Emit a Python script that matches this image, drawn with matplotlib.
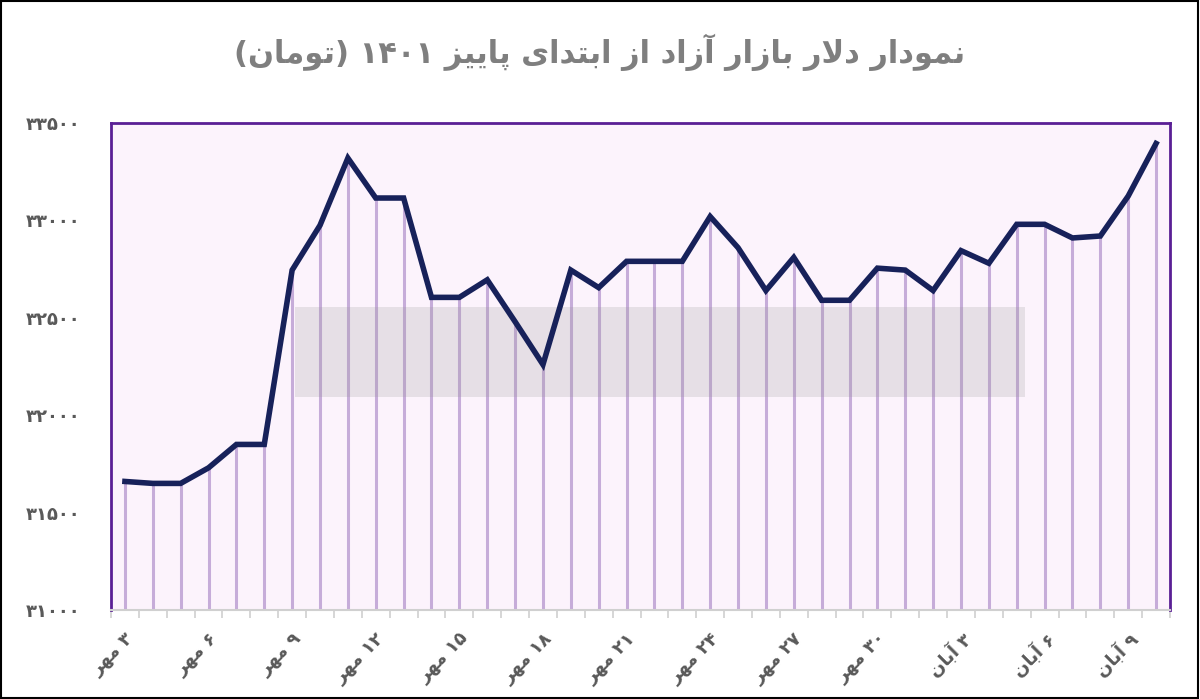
import matplotlib
matplotlib.use("Agg")
import matplotlib.pyplot as plt
from matplotlib.patches import Rectangle

# ---- minimal Arabic/Persian shaping ----
DUAL = {'ب': 'ﺏﺐﺑﺒ', 'پ': 'ﭖﭗﭘﭙ', 'ت': 'ﺕﺖﺗﺘ', 'ل': 'ﻝﻞﻟﻠ', 'م': 'ﻡﻢﻣﻤ',
        'ن': 'ﻥﻦﻧﻨ', 'ه': 'ﻩﻪﻫﻬ', 'ی': 'ﯼﯽﯾﯿ'}
RIGHT = {'ا': 'ﺍﺎ', 'آ': 'ﺁﺂ', 'د': 'ﺩﺪ', 'ر': 'ﺭﺮ', 'ز': 'ﺯﺰ', 'و': 'ﻭﻮ'}
MIRROR = {'(': ')', ')': '('}

def shape_word(w):
    chars = list(w)
    out = []
    i = 0
    while i < len(chars):
        c = chars[i]
        prev = chars[i - 1] if i > 0 else None
        jp = prev in DUAL
        if c == 'ل' and i + 1 < len(chars) and chars[i + 1] == 'ا':
            out.append('ﻼ' if jp else 'ﻻ')
            i += 2
            continue
        nxt = chars[i + 1] if i + 1 < len(chars) else None
        if c in DUAL:
            jn = nxt in DUAL or nxt in RIGHT
            f = DUAL[c]
            out.append(f[3] if jp and jn else f[1] if jp else f[2] if jn else f[0])
        elif c in RIGHT:
            out.append(RIGHT[c][1] if jp else RIGHT[c][0])
        else:
            out.append(MIRROR.get(c, c))
        i += 1
    return ''.join(reversed(out))

def rtl(text):
    words = text.split(' ')
    res = []
    for w in words:
        if any(ch in DUAL or ch in RIGHT for ch in w):
            res.append(shape_word(w))
        else:
            res.append(w)
    return ' '.join(reversed(res))

FA = str.maketrans('0123456789', '۰۱۲۳۴۵۶۷۸۹')

# ---- data ----
days = list(range(3, 31)) + list(range(1, 11))
months = ['مهر'] * 28 + ['آبان'] * 10
values = [31660, 31650, 31650, 31730, 31850, 31850, 32745, 32975, 33320, 33115,
          33115, 32605, 32605, 32695, 32480, 32260, 32745, 32655, 32790, 32790,
          32790, 33020, 32860, 32640, 32810, 32590, 32590, 32755, 32745, 32640,
          32845, 32780, 32980, 32980, 32910, 32920, 33125, 33395]
yticks = [31000, 31500, 32000, 32500, 33000, 33500]
title = 'نمودار دلار بازار آزاد از ابتدای پاییز ۱۴۰۱ (تومان)'

plt.rcParams['font.family'] = ['DejaVu Sans', 'Noto Sans']

fig = plt.figure(figsize=(12, 6.99), dpi=100)
fig.patches.append(Rectangle((0.001, 0.001), 0.997, 0.997, transform=fig.transFigure,
                             fill=False, ec='black', lw=1.5))
ax = fig.add_axes([0.0925, 0.1273, 0.8825, 0.6967])
ax.set_facecolor('#fcf3fc')
x = list(range(len(values)))
ymin = yticks[0]
ax.vlines(x, ymin, values, color='#c6acd9', lw=2.2, zorder=1)
ax.plot(x, values, color='#17215a', lw=4, zorder=3, solid_joinstyle='miter')
ax.set_xlim(-0.5, len(values) - 0.5)
ax.set_ylim(yticks[0], yticks[-1])

# watermark band
ax.add_patch(Rectangle((6.1, 32093), 26.2, 462, color='#999999', alpha=0.22, lw=0, zorder=2))

for s in ['top', 'left', 'right']:
    ax.spines[s].set_color('#5a1f95')
    ax.spines[s].set_linewidth(2)
ax.spines['bottom'].set_color('#d0d0d0')
ax.spines['bottom'].set_linewidth(1.5)

ax.set_yticks(yticks)
ax.set_yticklabels([str(v).translate(FA) for v in yticks], color='#595959',
                   fontsize=13, fontweight='bold')
ax.tick_params(axis='y', length=0, pad=22)

ax.set_xticks([i - 0.5 for i in range(len(values) + 1)], minor=True)
ax.tick_params(axis='x', which='minor', length=6, color='#d0d0d0', width=1.2)
lab_idx = list(range(0, len(values), 3))
ax.set_xticks(lab_idx)
ax.set_xticklabels([rtl(f'{days[i]} {months[i]}'.translate(FA)) for i in lab_idx],
                   rotation=45, ha='right', va='top', rotation_mode='anchor',
                   color='#595959', fontsize=13, fontweight='bold')
ax.tick_params(axis='x', which='major', length=0, pad=14)

fig.text(0.5, 0.925, rtl(title), ha='center', va='center', fontsize=22,
         fontweight='bold', color='#7f7f7f')

fig.savefig('out.png', dpi=100)
